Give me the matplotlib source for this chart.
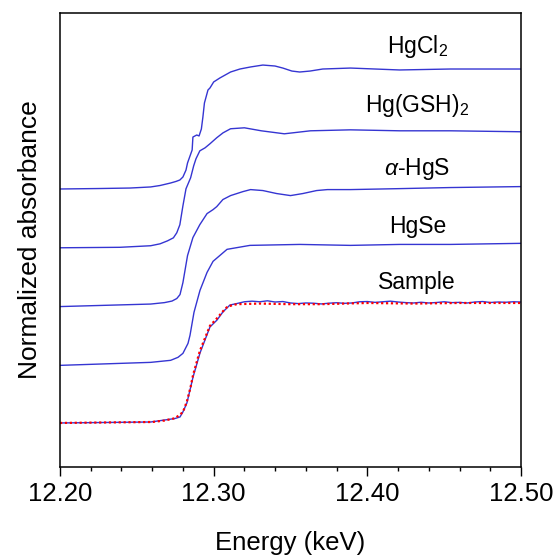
import matplotlib
matplotlib.use("Agg")
from matplotlib import pyplot as plt
from matplotlib.ticker import MultipleLocator, FormatStrFormatter
import numpy as np

plt.rcParams["font.family"] = ["Liberation Sans", "DejaVu Sans"]
plt.rcParams["mathtext.fontset"] = "custom"
plt.rcParams["mathtext.rm"] = "Liberation Sans"
plt.rcParams["mathtext.it"] = "Liberation Sans:italic"

# Normalized XANES spectra (energy in keV, normalized absorbance), stacked with offsets
e_hgcl2 = [12.200, 12.226, 12.2456, 12.259, 12.2651, 12.272, 12.2755, 12.278, 12.280, 12.282,
           12.283, 12.286, 12.2865, 12.289, 12.2905, 12.292, 12.293, 12.294, 12.2963, 12.2976,
           12.300, 12.304, 12.311, 12.3171, 12.324, 12.332, 12.3399, 12.345, 12.3509, 12.356,
           12.3627, 12.371, 12.389, 12.421, 12.454, 12.500]
mu_hgcl2 = [0.0, 0.004, 0.008, 0.017, 0.029, 0.05, 0.063, 0.075, 0.10, 0.158,
            0.217, 0.325, 0.433, 0.45, 0.442, 0.50, 0.60, 0.717, 0.825, 0.842,
            0.892, 0.925, 0.975, 1.0, 1.017, 1.033, 1.025, 1.008, 0.983, 0.975,
            0.983, 1.0, 1.008, 0.992, 1.0, 1.0]

e_hggsh = [12.200, 12.239, 12.259, 12.2651, 12.270, 12.2738, 12.276, 12.278, 12.280, 12.282,
           12.285, 12.287, 12.2885, 12.291, 12.2944, 12.2976, 12.302, 12.3061, 12.311, 12.320,
           12.331, 12.346, 12.363, 12.389, 12.421, 12.454, 12.500]
mu_hggsh = [0.0, 0.004, 0.017, 0.033, 0.058, 0.083, 0.125, 0.192, 0.35, 0.492,
            0.583, 0.683, 0.742, 0.808, 0.833, 0.867, 0.917, 0.958, 0.992, 1.0,
            0.975, 0.95, 0.975, 0.983, 0.975, 0.975, 0.967]

e_hgs = [12.200, 12.259, 12.268, 12.2729, 12.276, 12.2781, 12.280, 12.283, 12.2865, 12.291,
         12.2957, 12.2996, 12.302, 12.306, 12.311, 12.319, 12.324, 12.332, 12.341, 12.350,
         12.358, 12.367, 12.374, 12.389, 12.421, 12.454, 12.500]
mu_hgs = [0.0, 0.021, 0.033, 0.046, 0.067, 0.10, 0.20, 0.425, 0.575, 0.683,
          0.775, 0.808, 0.833, 0.892, 0.925, 0.958, 0.975, 0.967, 0.942, 0.925,
          0.942, 0.967, 0.975, 0.975, 0.983, 0.992, 1.0]

e_hgse = [12.200, 12.259, 12.272, 12.2768, 12.280, 12.2833, 12.2846, 12.2872, 12.2911, 12.2957,
          12.2996, 12.3087, 12.3236, 12.356, 12.389, 12.421, 12.454, 12.500]
mu_hgse = [0.0, 0.025, 0.042, 0.067, 0.10, 0.183, 0.25, 0.442, 0.625, 0.775,
           0.867, 0.967, 1.0, 1.008, 1.0, 1.008, 1.008, 1.017]

e_sample = [12.200, 12.259, 12.2683, 12.2748, 12.2781, 12.280, 12.2826, 12.2846, 12.2866, 12.2911,
            12.2976, 12.3022, 12.306, 12.3106, 12.315, 12.320, 12.325, 12.330, 12.335, 12.340,
            12.345, 12.350, 12.355, 12.360, 12.365, 12.370, 12.375, 12.380, 12.385, 12.390,
            12.395, 12.400, 12.405, 12.410, 12.415, 12.420, 12.425, 12.430, 12.435, 12.440,
            12.445, 12.450, 12.455, 12.460, 12.465, 12.470, 12.475, 12.480, 12.485, 12.490,
            12.495, 12.500]
mu_sample = [0.0, 0.008, 0.025, 0.037, 0.05, 0.092, 0.167, 0.275, 0.383, 0.583,
             0.80, 0.858, 0.925, 0.983, 0.995, 1.01, 1.015, 1.01, 1.018, 1.008,
             1.012, 1.0, 0.995, 1.0, 0.998, 0.992, 0.998, 1.002, 0.997, 1.0,
             1.01, 1.012, 1.005, 1.01, 1.015, 1.008, 1.003, 1.0, 1.006, 1.0,
             1.004, 1.01, 1.003, 1.005, 1.0, 1.008, 1.012, 1.004, 1.008, 1.006,
             1.01, 1.008]

# linear combination fit of the sample
e_fit = [12.200, 12.260, 12.268, 12.275, 12.280, 12.2826, 12.285, 12.2866, 12.291, 12.2976,
         12.302, 12.306, 12.309, 12.315, 12.330, 12.350, 12.370, 12.400, 12.430, 12.460, 12.500]
mu_fit = [0.0, 0.008, 0.02, 0.04, 0.09, 0.18, 0.30, 0.40, 0.60, 0.81,
          0.87, 0.93, 0.97, 0.99, 0.995, 0.99, 0.99, 1.0, 0.995, 1.0, 1.0]

names = ["HgCl$_2$", "Hg(GSH)$_2$", r"$\alpha$-HgS", "HgSe", "Sample"]
offsets = [1.95, 1.46, 0.97, 0.48, 0.0]
label_y = [3.083, 2.592, 2.067, 1.583, 1.117]

blue = "#3535d2"
fig = plt.figure(figsize=(5.58, 5.57), dpi=100)
ax = fig.add_axes([0.1075, 0.1616, 0.8262, 0.8151])

series = [(e_hgcl2, mu_hgcl2), (e_hggsh, mu_hggsh), (e_hgs, mu_hgs),
          (e_hgse, mu_hgse), (e_sample, mu_sample)]
for (e, mu), off in zip(series, offsets):
    ax.plot(e, np.array(mu) + off, color=blue, lw=1.0, solid_joinstyle="round")
ax.plot(e_fit, np.array(mu_fit) + offsets[-1], color="red", lw=1.6, ls=(0, (1, 1.2)))

for name, ly in zip(names, label_y):
    ax.text(12.4325, ly, name, ha="center", va="baseline", fontsize=16.5)

ax.set_xlim(12.20, 12.50)
ax.set_ylim(-0.367, 3.417)
ax.xaxis.set_major_locator(MultipleLocator(0.1))
ax.xaxis.set_minor_locator(MultipleLocator(0.02))
ax.xaxis.set_major_formatter(FormatStrFormatter("%.2f"))
ax.tick_params(axis="x", which="major", direction="out", length=6.5, width=1.0,
               labelsize=18.5, pad=4)
ax.tick_params(axis="x", which="minor", direction="out", length=3, width=1.0)
ax.set_yticks([])
for s in ax.spines.values():
    s.set_linewidth(1.1)

ax.set_xlabel("Energy (keV)", fontsize=18.5, labelpad=18)
ax.set_ylabel("Normalized absorbance", fontsize=19, labelpad=13)

fig.savefig("out.png", dpi=100)
